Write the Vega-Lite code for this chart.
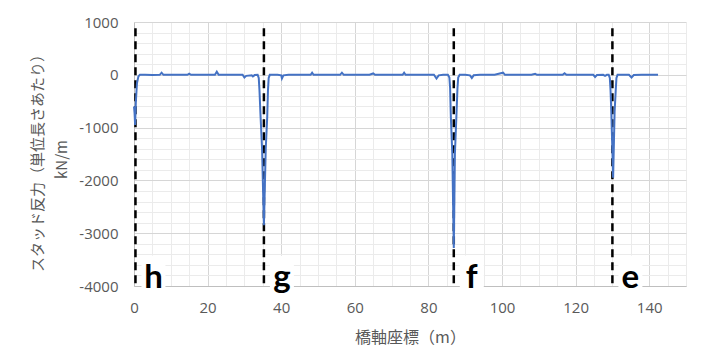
{
  "$schema": "https://vega.github.io/schema/vega-lite/v6.json",
  "width": 552,
  "height": 264,
  "autosize": "none",
  "padding": {"left": 134, "top": 22, "right": 15, "bottom": 76},
  "background": "white",
  "config": {
    "view": {"stroke": null},
    "axis": {
      "labelFont": "Open Sans",
      "labelFontSize": 15,
      "labelColor": "#595959",
      "titleFont": "Noto Sans CJK JP",
      "titleFontWeight": "normal",
      "titleColor": "#595959",
      "ticks": false,
      "domainColor": "#bfbfbf",
      "labelFlush": false
    }
  },
  "resolve": {"axis": {"x": "independent", "y": "independent"}},
  "datasets": {
    "react": [
      {"x": 0, "y": -600}, {"x": 0.15, "y": -720}, {"x": 0.3, "y": -950}, {"x": 0.5, "y": -520}, {"x": 0.8, "y": -160}, {"x": 1.2, "y": -30}, {"x": 1.6, "y": 0},
      {"x": 3, "y": 0}, {"x": 5, "y": -5}, {"x": 7, "y": 0}, {"x": 7.5, "y": 40}, {"x": 8, "y": 0}, {"x": 10, "y": 0}, {"x": 12, "y": 0}, {"x": 14.5, "y": 0}, {"x": 15, "y": 20}, {"x": 15.5, "y": 0},
      {"x": 18, "y": 0}, {"x": 20, "y": 0}, {"x": 22, "y": 0}, {"x": 22.5, "y": 60}, {"x": 23, "y": 0}, {"x": 25, "y": 0}, {"x": 27, "y": 0}, {"x": 29.5, "y": 0}, {"x": 30, "y": -50}, {"x": 30.5, "y": -20},
      {"x": 32, "y": -10}, {"x": 32.3, "y": -30}, {"x": 32.8, "y": -5}, {"x": 33.6, "y": 0}, {"x": 33.9, "y": -60}, {"x": 34.1, "y": -300}, {"x": 34.4, "y": -800}, {"x": 34.8, "y": -1400}, {"x": 35.3, "y": -2850},
      {"x": 35.8, "y": -1400}, {"x": 36.2, "y": -800}, {"x": 36.4, "y": -300}, {"x": 36.6, "y": -60}, {"x": 36.9, "y": 0}, {"x": 39, "y": 0}, {"x": 40, "y": -10}, {"x": 40.2, "y": -70}, {"x": 40.6, "y": -10},
      {"x": 42, "y": 0}, {"x": 45, "y": 0}, {"x": 48, "y": 0}, {"x": 48.4, "y": 40}, {"x": 48.8, "y": 0}, {"x": 52, "y": 0}, {"x": 56, "y": 0}, {"x": 56.5, "y": 40}, {"x": 57, "y": 0}, {"x": 60, "y": 0},
      {"x": 64, "y": 0}, {"x": 65, "y": 25}, {"x": 65.5, "y": 0}, {"x": 70, "y": 0}, {"x": 73, "y": 0}, {"x": 73.4, "y": 40}, {"x": 73.8, "y": 0}, {"x": 78, "y": 0}, {"x": 81.5, "y": 0}, {"x": 82.2, "y": -70}, {"x": 82.8, "y": -10},
      {"x": 84, "y": 0}, {"x": 85.3, "y": 0}, {"x": 85.7, "y": -50}, {"x": 85.9, "y": -250}, {"x": 86.1, "y": -800}, {"x": 86.5, "y": -1500}, {"x": 86.9, "y": -3280}, {"x": 87.2, "y": -1500}, {"x": 87.6, "y": -800}, {"x": 87.9, "y": -250},
      {"x": 88.1, "y": -50}, {"x": 88.5, "y": 0}, {"x": 90, "y": 0}, {"x": 91.3, "y": -10}, {"x": 91.8, "y": -60}, {"x": 92.3, "y": -10}, {"x": 94, "y": 0}, {"x": 98, "y": 0}, {"x": 100.3, "y": 40}, {"x": 100.8, "y": 0}, {"x": 104, "y": 0}, {"x": 108, "y": 0},
      {"x": 109, "y": 20}, {"x": 109.5, "y": 0}, {"x": 113, "y": 0}, {"x": 116.5, "y": 0}, {"x": 117, "y": 30}, {"x": 117.5, "y": 0}, {"x": 121, "y": 0}, {"x": 124.8, "y": 0}, {"x": 125.3, "y": -40}, {"x": 125.8, "y": -5},
      {"x": 127.5, "y": 0}, {"x": 128, "y": -20}, {"x": 128.5, "y": 0}, {"x": 129.0, "y": 0}, {"x": 129.3, "y": -60}, {"x": 129.5, "y": -300}, {"x": 129.7, "y": -700}, {"x": 130.2, "y": -1950}, {"x": 130.6, "y": -700},
      {"x": 130.9, "y": -300}, {"x": 131.1, "y": -60}, {"x": 131.4, "y": 0}, {"x": 134.5, "y": 0}, {"x": 135.2, "y": -50}, {"x": 135.8, "y": -5}, {"x": 138, "y": 0}, {"x": 142.4, "y": 0}
    ],
    "marks": [
      {"x": 0.4, "label": "h"},
      {"x": 35.3, "label": "g"},
      {"x": 86.9, "label": "f"},
      {"x": 130, "label": "e"}
    ]
  },
  "layer": [
    {
      "data": {"name": "marks"},
      "mark": {"type": "rule", "color": "black", "strokeWidth": 2.5, "strokeDash": [8, 5]},
      "encoding": {
        "x": {
          "field": "x", "type": "quantitative",
          "scale": {"domain": [0, 150], "nice": false},
          "axis": {
            "orient": "bottom",
            "values": [5,10,15,25,30,35,45,50,55,65,70,75,85,90,95,105,110,115,125,130,135,145,150],
            "labels": false, "domain": false, "ticks": false, "title": null,
            "grid": true, "gridColor": "#ebebeb"
          }
        },
        "y": {
          "datum": 880, "type": "quantitative",
          "scale": {"domain": [-4000, 1000], "nice": false},
          "axis": {
            "orient": "left",
            "values": [-3800,-3600,-3400,-3200,-2800,-2600,-2400,-2200,-1800,-1600,-1400,-1200,-800,-600,-400,-200,200,400,600,800],
            "labels": false, "domain": false, "ticks": false, "title": null,
            "grid": true, "gridColor": "#ebebeb"
          }
        },
        "y2": {"datum": -4000}
      }
    },
    {
      "data": {"name": "react"},
      "mark": {"type": "line", "color": "#4472C4", "strokeWidth": 2},
      "encoding": {
        "x": {
          "field": "x", "type": "quantitative",
          "axis": {
            "orient": "bottom",
            "values": [0, 20, 40, 60, 80, 100, 120, 140],
            "grid": true, "gridColor": "#d6d6d6",
            "labelPadding": 14,
            "title": "橋軸座標（m）",
            "titleFontSize": 16,
            "titlePadding": 14
          }
        },
        "y": {
          "field": "y", "type": "quantitative",
          "axis": {
            "orient": "left",
            "values": [-4000, -3000, -2000, -1000, 0, 1000],
            "labelExpr": "toString(datum.value)",
            "grid": true, "gridColor": "#d6d6d6",
            "labelPadding": 16,
            "title": ["スタッド反力（単位長さあたり）", "kN/m"],
            "titleFontSize": 15,
            "titleLineHeight": 24,
            "titlePadding": 9,
            "titleY": 137
          }
        }
      }
    },
    {
      "data": {"name": "marks"},
      "mark": {"type": "point", "shape": "M-1,-1.45H1V1.45H-1Z", "size": 576, "filled": true, "fill": "white", "opacity": 1, "strokeWidth": 0, "xOffset": 18, "yOffset": -13},
      "encoding": {
        "x": {"field": "x", "type": "quantitative", "axis": null},
        "y": {"datum": -4000, "axis": null}
      }
    },
    {
      "data": {"name": "marks"},
      "mark": {"type": "text", "font": "Lato", "fontWeight": "bold", "fontSize": 33, "color": "black", "align": "center", "baseline": "alphabetic", "xOffset": 18, "yOffset": 2},
      "encoding": {
        "x": {"field": "x", "type": "quantitative", "axis": null},
        "y": {"datum": -4000, "axis": null},
        "text": {"field": "label"}
      }
    }
  ]
}
